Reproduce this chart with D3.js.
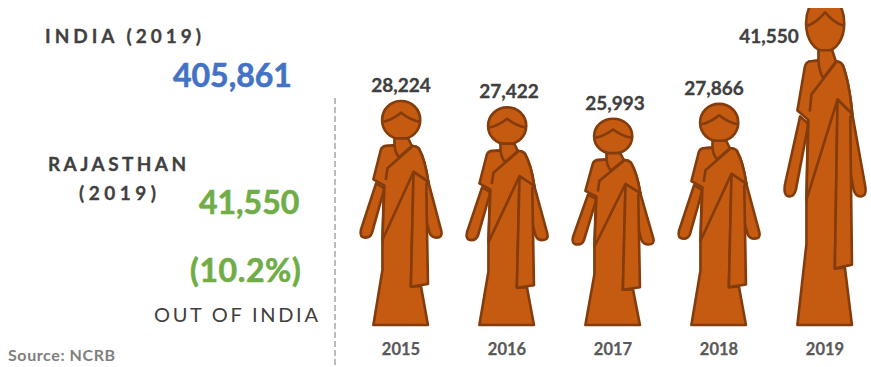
<!DOCTYPE html>
<html>
<head>
<meta charset="utf-8">
<script src="https://d3js.org/d3.v7.min.js"></script>
<style>
    html, body { margin: 0; padding: 0; background: #fff; }
    text { font-family: Lato, "Open Sans", sans-serif; }
    .side { font-weight: 700; fill: #404040; font-size: 19px; letter-spacing: 3.4px; stroke: #404040; stroke-width: 0.3; }
    .big { font-weight: 700; font-size: 32px; stroke-width: 0.6; }
    .value { font-weight: 700; fill: #404040; stroke: #404040; stroke-width: 0.3; font-size: 19px; text-anchor: middle; }
    .year { font-weight: 700; fill: #595959; stroke: #595959; stroke-width: 0.25; font-size: 16.5px; text-anchor: middle; }
    .icon path { fill: #c55a11; stroke: #843c0c; stroke-width: 2.6; stroke-linejoin: round; vector-effect: non-scaling-stroke; }
    .icon path.detail { fill: none; }
</style>
</head>
<body>
<div id="chart"></div>
<script>
var years = ["2015", "2016", "2017", "2018", "2019"];
var victims = [28224, 27422, 25993, 27866, 41550];
var indiaTotal = "405,861";
var stateTotal = "41,550";
var stateShare = "(10.2%)";

function init() {
    var w = 871;
    var h = 367;
    var baseline = 325;
    var iconW = 82;

    var svg = d3.select("#chart")
        .append("svg")
        .attr("width", w)
        .attr("height", h)
        .style("display", "block");

    // top of the tall figure gets cut off in the original
    svg.append("clipPath")
        .attr("id", "crop")
        .append("rect")
        .attr("x", 0)
        .attr("y", 8)
        .attr("width", w)
        .attr("height", h);

    var xScale = d3.scalePoint().domain(years).range([401, 825]);

    var yScale = d3.scaleLinear()
        .domain([0, 28224])
        .range([baseline, 101]);

    // figure outline, drawn in a 245 x 672 box
    var box = { w: 245, h: 672 };
    var leftArm = "M48,247 L3,385 Q-3,410 17,410 Q31,410 36,395 L73,262 Z";
    var rightArm = "M175,252 L204,242 L243,390 Q248,410 228,410 Q214,410 208,396 L185,310 Z";
    var skirt = "M75,135 L67,417 L67,507 L40,672 L203,672 L182,555 L152,557 L160,212 L204,242 Q195,178 176,143 Q168,134 155,135 L103,133 Z";
    var drape = "M160,212 L152,557 L203,549 L198,249 L204,242 Z";
    var bodice = "M75,135 Q65,137 62,147 L40,235 L73,254 L67,417 L160,212 L204,242 Q195,178 176,143 Q168,134 155,135 L103,133 Z";
    var head = "M123,0 C155,0 180,25 180,57 C180,90 155,114 123,114 C91,114 66,90 66,57 C66,25 91,0 123,0 Z";
    var neck = "M103,112 L103,133 Q105,155 117,169 L155,135 L144,112 Z";
    var details = [
        "M70,62 Q95,57 123,35 Q150,57 178,62",
        "M155,137 L82,202 L77,237"
    ];

    var figures = svg.append("g")
        .attr("clip-path", "url(#crop)")
        .selectAll("g")
        .data(years)
        .enter()
        .append("g")
        .attr("class", "icon")
        .attr("transform", function (d, i) {
            var top = yScale(victims[i]);
            var sy = (baseline - top) / box.h;
            return `translate(${xScale(d) - iconW / 2},${top}) scale(${iconW / box.w},${sy})`;
        });

    [leftArm, rightArm, skirt, drape, bodice, head, neck].forEach(function (p) {
        figures.append("path").attr("d", p);
    });
    details.forEach(function (p) {
        figures.append("path").attr("class", "detail").attr("d", p);
    });

    // value labels are not quite centred over the figures
    var nudge = [0, 2, 2, -5, -56];

    svg.selectAll(".value")
        .data(years)
        .enter()
        .append("text")
        .attr("class", "value")
        .attr("x", function (d, i) { return xScale(d) + nudge[i]; })
        .attr("y", function (d, i) { return i == 4 ? 43 : yScale(victims[i]) - 9; })
        .text(function (d, i) { return d3.format(",")(victims[i]); });

    svg.selectAll(".year")
        .data(years)
        .enter()
        .append("text")
        .attr("class", "year")
        .attr("x", function (d) { return xScale(d); })
        .attr("y", 355)
        .text(function (d) { return d; });

    svg.append("line")
        .attr("x1", 335)
        .attr("y1", 98)
        .attr("x2", 335)
        .attr("y2", 367)
        .style("stroke", "#a6a6a6")
        .style("stroke-width", 1.5)
        .style("stroke-dasharray", "6, 3");

    // left hand panel
    svg.append("text").attr("class", "side").attr("x", 45).attr("y", 43).style("letter-spacing", "4px").text("INDIA (2019)");
    svg.append("text").attr("class", "big").attr("x", 173).attr("y", 87).style("fill", "#4472c4").style("stroke", "#4472c4").text(indiaTotal);

    svg.append("text").attr("class", "side").attr("x", 48).attr("y", 171).text("RAJASTHAN");
    svg.append("text").attr("class", "side").attr("x", 79).attr("y", 200).style("letter-spacing", "4.5px").text("(2019)");
    svg.append("text").attr("class", "big").attr("x", 199).attr("y", 214).style("fill", "#70ad47").style("stroke", "#70ad47").text(stateTotal);
    svg.append("text").attr("class", "big").attr("x", 190).attr("y", 282).style("fill", "#70ad47").style("stroke", "#70ad47").style("letter-spacing", "0.6px").text(stateShare);

    svg.append("text")
        .attr("x", 154)
        .attr("y", 322)
        .style("fill", "#404040")
        .style("font-size", "20px")
        .style("letter-spacing", "2.7px")
        .text("OUT OF INDIA");

    svg.append("text")
        .attr("x", 8)
        .attr("y", 361)
        .style("fill", "#7f7f7f")
        .style("font-weight", 700)
        .style("font-size", "16px")
        .style("letter-spacing", "0.6px")
        .text("Source: NCRB");
}

window.onload = init;
</script>
</body>
</html>
